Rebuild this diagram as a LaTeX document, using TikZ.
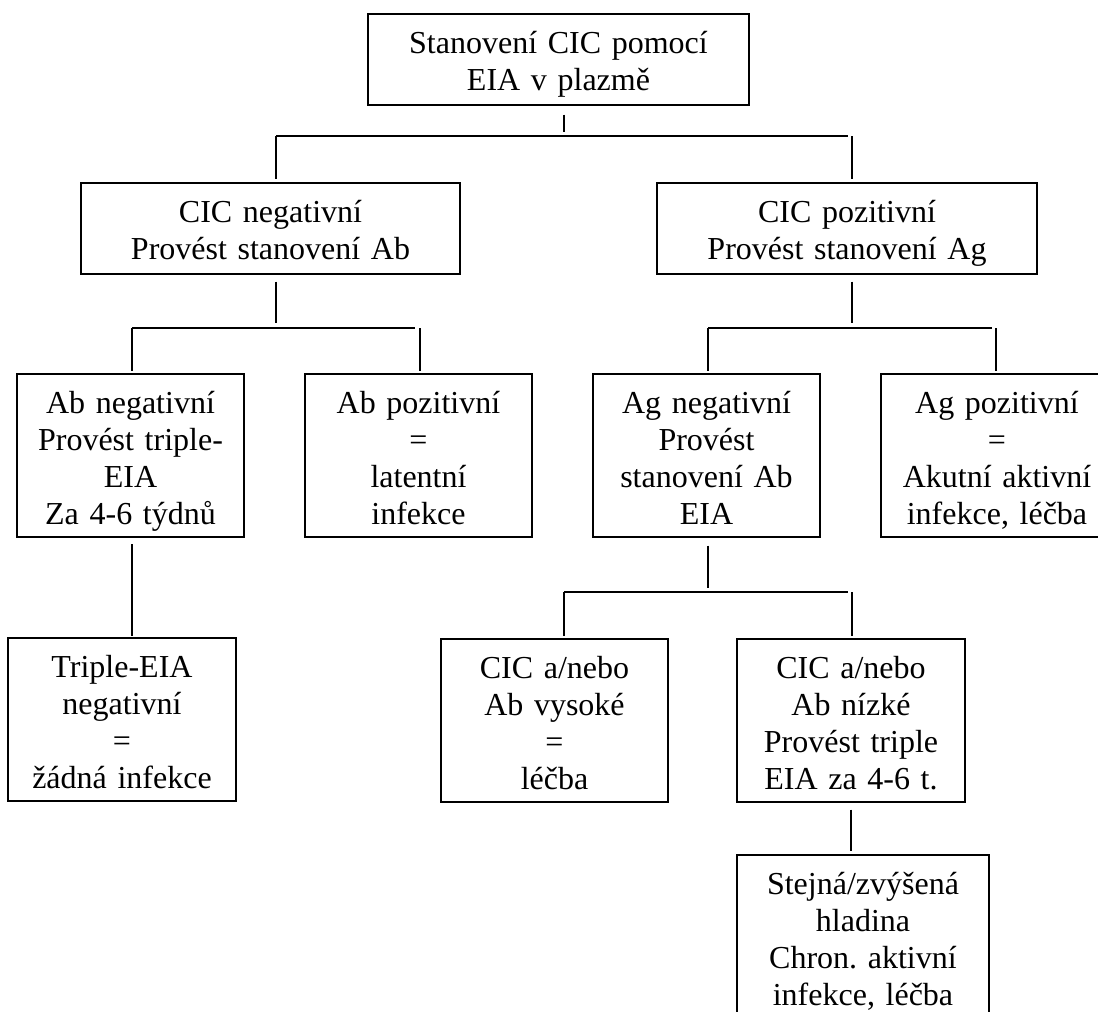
\documentclass[tikz,border=0pt]{standalone}
\usepackage{fontspec}
\setmainfont{Liberation Serif}
\frenchspacing
\tikzset{
  box/.style={draw, line width=1.6pt, inner sep=0pt, anchor=north, align=center, text width=#1, text height=40pt},
  two/.style={text depth=51pt},
  four/.style={text depth=123pt},
  tie/.style={line width=1.6pt}
}
\begin{document}
\begin{tikzpicture}[x=1pt, y=-1pt, font=\fontsize{32}{36.8}\selectfont]
			\useasboundingbox (0,0) rectangle (1098,1012);
			\clip (0,0) rectangle (1098,1012);
			\fill[white] (0,0) rectangle (1098,1012);
			% boxes
			\node[box=381pt, two] (cic) at (558.5,13) {Stanovení CIC pomocí\\EIA v plazmě};
			\node[box=379pt, two] (cicneg) at (270.5,182) {CIC negativní\\Provést stanovení Ab};
			\node[box=380pt, two] (cicpoz) at (847,182) {CIC pozitivní\\Provést stanovení Ag};
			\node[box=227pt, four] (abneg) at (130.5,373) {Ab negativní\\Provést triple-\\EIA\\Za 4-6 týdnů};
			\node[box=227pt, four] (abpoz) at (418.5,373) {Ab pozitivní\\=\\latentní\\infekce};
			\node[box=227pt, four] (agneg) at (706.5,373) {Ag negativní\\Provést\\stanovení Ab\\EIA};
			\node[box=232pt, four] (agpoz) at (997,373) {Ag pozitivní\\=\\Akutní aktivní\\infekce, léčba};
			\node[box=228pt, four] (tneg) at (122,637) {Triple-EIA\\negativní\\=\\žádná infekce};
			\node[box=227pt, four] (vys) at (554.5,638) {CIC a/nebo\\Ab vysoké\\=\\léčba};
			\node[box=228pt, four] (niz) at (851,638) {CIC a/nebo\\Ab nízké\\Provést triple\\EIA za 4-6 t.};
			\node[box=252pt, text depth=200pt] (chron) at (863,854) {Stejná/zvýšená\\hladina\\Chron. aktivní\\infekce, léčba};
			% bar under cic
			\coordinate (s1) at (564,136);
			\coordinate (s1l) at (276,136);
			\coordinate (s1r) at (852,136);
			\draw[tie, shorten <=9pt, shorten >=4pt] (s1 |- cic.south) -- (s1);
			\draw[tie, shorten >=4pt] (s1l) -- (s1r);
			\draw[tie, shorten >=3pt] (s1l) -- (s1l |- cicneg.north);
			\draw[tie, shorten >=3pt] (s1r) -- (s1r |- cicpoz.north);
			% bar under cicneg
			\coordinate (s2) at (276,328);
			\coordinate (s2l) at (132,328);
			\coordinate (s2r) at (420,328);
			\draw[tie, shorten <=7pt, shorten >=5pt] (s2 |- cicneg.south) -- (s2);
			\draw[tie, shorten >=5pt] (s2l) -- (s2r);
			\draw[tie, shorten >=2pt] (s2l) -- (s2l |- abneg.north);
			\draw[tie, shorten >=2pt] (s2r) -- (s2r |- abpoz.north);
			% bar under cicpoz
			\coordinate (s3) at (852,328);
			\coordinate (s3l) at (708,328);
			\coordinate (s3r) at (996,328);
			\draw[tie, shorten <=7pt, shorten >=5pt] (s3 |- cicpoz.south) -- (s3);
			\draw[tie, shorten >=4pt] (s3l) -- (s3r);
			\draw[tie, shorten >=2pt] (s3l) -- (s3l |- agneg.north);
			\draw[tie, shorten >=2pt] (s3r) -- (s3r |- agpoz.north);
			% abneg down
			\coordinate (s5) at (132,544);
			\draw[tie, shorten >=1pt] (s5) -- (s5 |- tneg.north);
			% bar under agneg
			\coordinate (s4) at (708,592);
			\coordinate (s4l) at (564,592);
			\coordinate (s4r) at (852,592);
			\draw[tie, shorten <=8pt, shorten >=4pt] (s4 |- agneg.south) -- (s4);
			\draw[tie, shorten >=4pt] (s4l) -- (s4r);
			\draw[tie, shorten >=2pt] (s4l) -- (s4l |- vys.north);
			\draw[tie, shorten >=2pt] (s4r) -- (s4r |- niz.north);
			% niz down
			\draw[tie, shorten <=7pt, shorten >=3pt] (niz.south) -- (niz.south |- chron.north);
		\end{tikzpicture}
\end{document}
